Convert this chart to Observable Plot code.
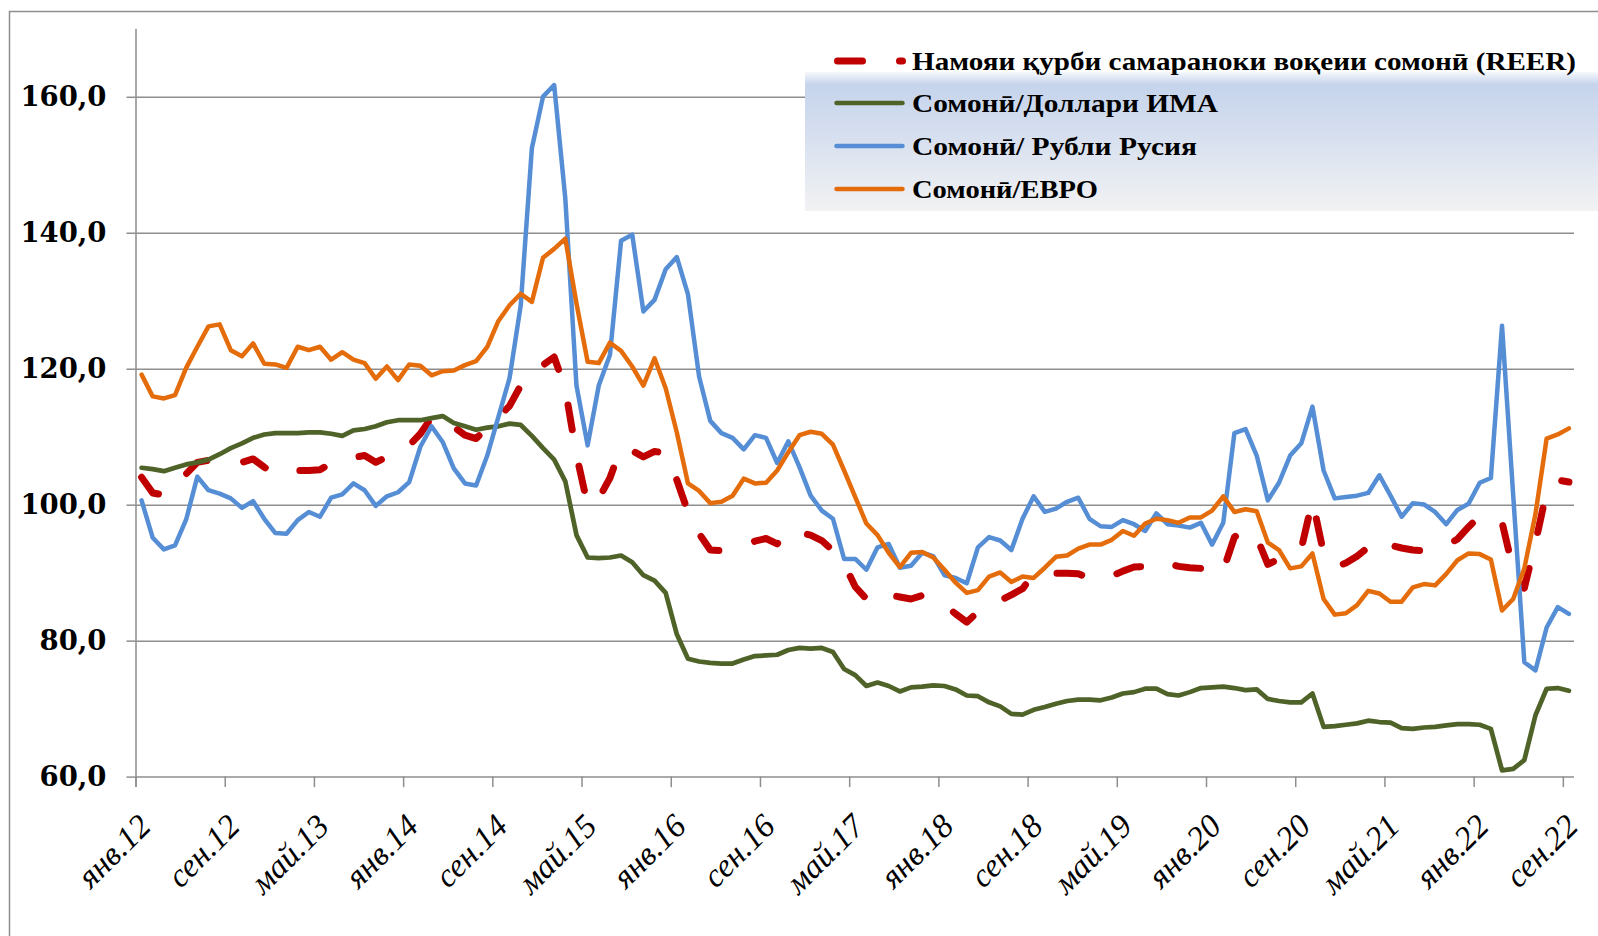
<!DOCTYPE html>
<html><head><meta charset="utf-8">
<script src="https://cdn.jsdelivr.net/npm/d3@7"></script>
<script src="https://cdn.jsdelivr.net/npm/@observablehq/plot@0.6"></script>
<style>body{margin:0;background:#fff;} #chart{width:1598px;height:936px;}</style>
</head><body><div id="chart"></div>
<script>
const tickLabels = ["янв.12","сен.12","май.13","янв.14","сен.14","май.15","янв.16","сен.16","май.17","янв.18","сен.18","май.19","янв.20","сен.20","май.21","янв.22","сен.22"];
const yTicks = [60, 80, 100, 120, 140, 160];
const seriesNames = ["Намояи қурби самараноки воқеии сомонӣ (REER)", "Сомонӣ/Доллари ИМА", "Сомонӣ/ Рубли Русия", "Сомонӣ/ЕВРО"];
const seriesColors = ["#c00000", "#4f6228", "#558ed5", "#e46c0a"];

// monthly values, Jan 2012 .. Sep 2022 (129 months)
const reer = [104.1,101.8,101.5,102.8,104.6,106.3,106.6,106.6,106.5,106.3,
 106.8,105.6,104.5,104.8,105.1,105.1,105.2,106.2,106.8,107.0,
 107.3,106.3,107.1,107.5,108.8,110.5,112.9,113.1,111.5,110.3,
 109.8,111.4,113.0,114.6,117.6,119.8,120.6,121.8,117.1,107.4,
 100.0,101.0,104.0,108.5,108.0,107.1,107.9,107.7,103.7,99.0,
 95.8,93.4,93.3,93.6,94.2,94.7,95.1,94.3,96.4,96.0,
 95.6,94.8,93.3,91.4,88.0,86.2,87.4,86.8,86.5,86.2,
 86.7,86.1,85.4,84.0,82.8,84.3,85.2,86.0,86.8,87.7,
 89.9,90.0,90.0,90.0,89.9,89.3,89.0,89.6,90.3,90.9,
 91.0,91.8,91.4,91.0,90.8,90.7,89.7,90.4,95.3,96.5,
 95.3,91.3,92.1,92.8,93.6,100.7,92.9,90.9,91.5,92.5,
 93.8,95.1,94.1,93.7,93.4,93.3,93.5,94.1,95.0,96.8,
 98.4,97.9,97.5,90.5,87.8,94.5,102.0,103.7,103.4];
const usd = [105.5,105.3,105.0,105.5,106.0,106.3,106.7,107.5,108.4,109.1,
 109.9,110.4,110.6,110.6,110.6,110.7,110.7,110.5,110.2,111.0,
 111.2,111.6,112.2,112.5,112.5,112.5,112.8,113.1,112.1,111.6,
 111.1,111.4,111.6,112.0,111.8,110.2,108.4,106.7,103.5,95.6,
 92.3,92.2,92.3,92.6,91.6,89.7,88.9,87.1,81.0,77.4,
 77.0,76.8,76.7,76.7,77.3,77.8,77.9,78.0,78.7,79.0,
 78.9,79.0,78.4,75.9,75.0,73.4,73.9,73.4,72.6,73.2,
 73.3,73.5,73.4,72.9,72.0,71.9,71.0,70.4,69.3,69.2,
 69.9,70.3,70.8,71.2,71.4,71.4,71.3,71.7,72.3,72.5,
 73.0,73.0,72.2,72.0,72.5,73.1,73.2,73.3,73.1,72.8,
 72.9,71.5,71.2,71.0,71.0,72.3,67.4,67.5,67.7,67.9,
 68.3,68.1,68.0,67.2,67.1,67.3,67.4,67.6,67.8,67.8,
 67.7,67.1,61.0,61.2,62.5,69.1,73.0,73.1,72.7];
const rub = [100.7,95.2,93.5,94.1,97.9,104.2,102.2,101.7,101.0,99.6,
 100.6,98.0,95.9,95.8,97.8,99.0,98.3,101.1,101.6,103.2,
 102.2,99.9,101.3,101.9,103.4,108.6,111.6,109.3,105.4,103.2,
 102.9,107.3,113.0,118.7,129.4,152.5,160.1,161.8,145.1,117.6,
 108.8,117.6,122.1,138.9,139.8,128.5,130.2,134.7,136.5,131.0,
 118.9,112.4,110.6,109.9,108.2,110.3,109.9,106.2,109.4,105.6,
 101.4,99.2,98.0,92.1,92.1,90.5,93.8,94.3,90.8,91.1,
 93.0,92.5,89.7,89.3,88.5,93.8,95.3,94.8,93.4,98.0,
 101.3,99.0,99.5,100.5,101.1,98.0,96.9,96.8,97.8,97.2,
 96.2,98.8,97.2,97.0,96.7,97.4,94.2,97.4,110.6,111.2,
 107.3,100.7,103.3,107.3,109.1,114.5,105.1,101.0,101.2,101.4,
 101.8,104.4,101.4,98.3,100.3,100.1,99.0,97.2,99.3,100.2,
 103.3,104.0,126.4,101.5,76.9,75.7,82.0,85.0,84.0];
const eur = [119.2,116.0,115.7,116.2,120.2,123.3,126.3,126.6,122.8,121.9,
 123.8,120.8,120.7,120.2,123.3,122.8,123.3,121.4,122.5,121.4,
 120.9,118.6,120.4,118.4,120.7,120.5,119.1,119.7,119.8,120.6,
 121.2,123.3,127.1,129.4,131.1,129.9,136.4,137.7,139.2,129.7,
 121.1,120.9,123.9,122.7,120.4,117.6,121.6,117.2,110.7,103.2,
 102.1,100.3,100.5,101.4,103.9,103.2,103.3,105.1,107.8,110.3,
 110.8,110.5,108.9,105.1,101.2,97.3,95.6,93.0,90.9,93.0,
 93.1,92.3,90.5,88.6,87.1,87.5,89.5,90.1,88.7,89.5,
 89.3,90.8,92.4,92.6,93.6,94.2,94.2,94.9,96.2,95.5,
 97.3,98.0,97.8,97.4,98.2,98.2,99.2,101.3,99.0,99.4,
 99.1,94.5,93.4,90.7,91.0,92.9,86.2,83.9,84.1,85.3,
 87.4,87.0,85.8,85.8,87.9,88.4,88.2,89.9,91.9,92.9,
 92.8,92.0,84.5,86.2,90.7,98.7,109.8,110.4,111.3];

const rows = vals => vals.map((v, i) => ({i, v}));
const nCat = reer.length;
const tickIdx = tickLabels.map((_, k) => k * 8);          // category of each label
const tickBounds = tickLabels.map((_, k) => k * 8 - 0.5); // tick marks between categories
const grid = "#8e8e8e";
const fmt = d => d.toFixed(1).replace(".", ",");
const pxPerUnitY = 747.8 / 110;
const pxPerCat = 1438.5 / nCat;

const plot = Plot.plot({
  width: 1598, height: 936,
  marginLeft: 135.5, marginRight: 24, marginTop: 28.8, marginBottom: 159.4,
  x: {type: "linear", domain: [-0.5, nCat - 0.5], axis: null},
  y: {domain: [60, 170], axis: null},
  style: {background: "white", fontFamily: "Liberation Serif", overflow: "visible"},
  marks: [
    Plot.gridY(yTicks, {stroke: grid, strokeOpacity: 1, strokeWidth: 1.5}),
    Plot.ruleX([-0.5], {y1: 170, y2: 60 - 10.5 / pxPerUnitY, stroke: grid, strokeWidth: 1.5}),
    Plot.ruleX(tickBounds, {y1: 60, y2: 60 - 10.5 / pxPerUnitY, stroke: grid, strokeWidth: 1.5}),
    Plot.ruleY(yTicks, {x1: -0.5 - 9 / pxPerCat, x2: -0.5, stroke: grid, strokeWidth: 1.5}),
    Plot.text(yTicks, {y: d => d, frameAnchor: "left", text: fmt, textAnchor: "end", dx: -29.5,
      fontWeight: "bold", fontSize: 27.5, fontFamily: "DejaVu Serif", fill: "black"}),
    Plot.text(tickIdx, {x: d => d, frameAnchor: "bottom", text: (d, k) => tickLabels[k], rotate: -45,
      textAnchor: "end", dx: 11, dy: 51, fontSize: 33, fontStyle: "italic", fontFamily: "Liberation Serif", fill: "black"}),
    Plot.line(rows(reer), {x: "i", y: "v", stroke: seriesColors[0], strokeWidth: 7, strokeDasharray: "25,37", strokeLinecap: "round", strokeLinejoin: "round"}),
    Plot.line(rows(usd), {x: "i", y: "v", stroke: seriesColors[1], strokeWidth: 4.7, strokeLinecap: "round", strokeLinejoin: "round"}),
    Plot.line(rows(rub), {x: "i", y: "v", stroke: seriesColors[2], strokeWidth: 4.5, strokeLinecap: "round", strokeLinejoin: "round"}),
    Plot.line(rows(eur), {x: "i", y: "v", stroke: seriesColors[3], strokeWidth: 4.5, strokeLinecap: "round", strokeLinejoin: "round"})
  ]
});
document.getElementById("chart").appendChild(plot);

// chart-area border (top & left) and legend
const svg = d3.select(plot);
svg.append("path").attr("d", "M9.5,936V11.5H1598").attr("fill", "none").attr("stroke", grid).attr("stroke-width", 1.5);
const grad = svg.append("defs").append("linearGradient").attr("id", "lgbg").attr("x1", 0).attr("y1", 0).attr("x2", 0).attr("y2", 1);
[["0%", "#f6f8fc"], ["9%", "#c5d4ec"], ["45%", "#d6dfef"], ["100%", "#f2f2f3"]].forEach(([o, c]) =>
  grad.append("stop").attr("offset", o).attr("stop-color", c));
svg.append("rect").attr("x", 805).attr("y", 72).attr("width", 793).attr("height", 139).attr("fill", "url(#lgbg)");
const rowY = [61, 103, 146, 189];
const textLen = [664, 306, 285, 186];
seriesNames.forEach((name, k) => {
  svg.append("line").attr("x1", k === 0 ? 837.5 : 836.5).attr("x2", 902.5).attr("y1", rowY[k]).attr("y2", rowY[k])
    .attr("stroke", seriesColors[k]).attr("stroke-width", k === 0 ? 7 : 4.5).attr("stroke-linecap", "round")
    .attr("stroke-dasharray", k === 0 ? "25,37" : null);
  svg.append("text").attr("x", 912).attr("y", rowY[k] + 8.5).attr("text-anchor", "start").attr("font-family", "Liberation Serif")
    .attr("font-weight", "bold").attr("font-size", 25).attr("fill", "black")
    .attr("textLength", textLen[k]).attr("lengthAdjust", "spacingAndGlyphs").text(name);
});
</script></body></html>
